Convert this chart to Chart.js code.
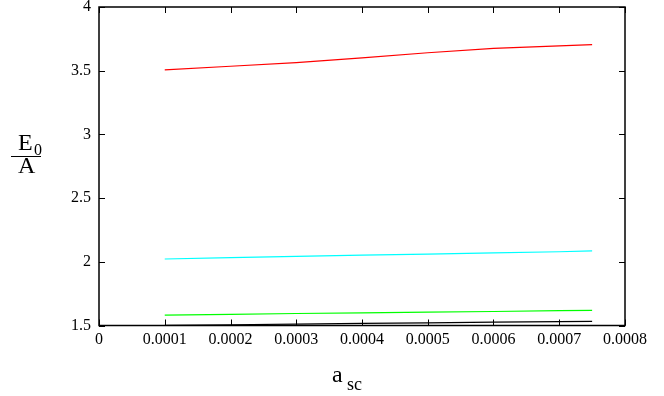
<!DOCTYPE html>
<html>
<head>
<meta charset="utf-8">
<script src="https://cdn.jsdelivr.net/npm/chart.js@4.4.1/dist/chart.umd.min.js"></script>
<style>
html,body{margin:0;padding:0;background:#fff;}
#wrap{width:664px;height:396px;}
</style>
</head>
<body>
<div id="wrap"><canvas id="c" width="664" height="396"></canvas></div>
<script>
const xValues = [0.0001, 0.0002, 0.0003, 0.0004, 0.0005, 0.0006, 0.0007, 0.00075];
const redSeries = [3.506, 3.535, 3.564, 3.601, 3.641, 3.676, 3.695, 3.704];
const cyanSeries = [2.022, 2.032, 2.042, 2.052, 2.061, 2.070, 2.079, 2.085];
const greenSeries = [1.582, 1.588, 1.594, 1.599, 1.605, 1.610, 1.616, 1.619];
const blackSeries = [1.501, 1.506, 1.511, 1.516, 1.521, 1.526, 1.531, 1.533];
const xTicks = [0, 0.0001, 0.0002, 0.0003, 0.0004, 0.0005, 0.0006, 0.0007, 0.0008];
const yTicks = [1.5, 2, 2.5, 3, 3.5, 4];

const pts = s => xValues.map((x, i) => ({x: x, y: s[i]}));
const FONT = '"Liberation Serif", "DejaVu Serif", serif';

const framePlugin = {
  id: 'frame',
  afterDraw(chart) {
    const ctx = chart.ctx, a = chart.chartArea;
    const xs = chart.scales.x, ys = chart.scales.y;
    ctx.save();
    ctx.strokeStyle = '#000';
    ctx.lineWidth = 1.5;
    ctx.strokeRect(a.left, a.top, a.right - a.left, a.bottom - a.top);
    ctx.lineWidth = 1;
    const L = 6;
    ctx.beginPath();
    xTicks.forEach(v => {
      const px = Math.round(xs.getPixelForValue(v)) + 0.5;
      ctx.moveTo(px, a.bottom); ctx.lineTo(px, a.bottom - L);
      ctx.moveTo(px, a.top); ctx.lineTo(px, a.top + L);
    });
    yTicks.forEach(v => {
      const py = Math.round(ys.getPixelForValue(v)) + 0.5;
      ctx.moveTo(a.left, py); ctx.lineTo(a.left + L, py);
      ctx.moveTo(a.right, py); ctx.lineTo(a.right - L, py);
    });
    ctx.stroke();
    // axis titles
    ctx.fillStyle = '#000';
    ctx.textBaseline = 'alphabetic';
    ctx.textAlign = 'left';
    ctx.font = '24px ' + FONT;
    ctx.fillText('a', 332, 382);
    ctx.font = '18px ' + FONT;
    ctx.fillText('sc', 347, 390);
    ctx.font = '24px ' + FONT;
    ctx.fillText('E', 18, 150);
    ctx.font = '16px ' + FONT;
    ctx.fillText('0', 34, 155);
    ctx.font = '24px ' + FONT;
    ctx.fillText('A', 18, 173);
    ctx.beginPath();
    ctx.moveTo(11, 156.5); ctx.lineTo(41, 156.5);
    ctx.stroke();
    ctx.restore();
  }
};

const ds = (data, color) => ({
  data: pts(data), borderColor: color, borderWidth: 1.2,
  pointRadius: 0, fill: false, tension: 0
});

new Chart(document.getElementById('c'), {
  type: 'line',
  data: {
    datasets: [
      ds(redSeries, '#ff0000'),
      ds(cyanSeries, '#00ffff'),
      ds(greenSeries, '#00ff00'),
      ds(blackSeries, '#000000')
    ]
  },
  options: {
    responsive: false,
    animation: false,
    devicePixelRatio: 1,
    layout: {padding: {left: 0, right: 39, top: 7, bottom: 0}},
    plugins: {legend: {display: false}, tooltip: {enabled: false}},
    scales: {
      x: {
        type: 'linear', min: 0, max: 0.0008,
        afterBuildTicks: s => { s.ticks = xTicks.map(v => ({value: v})); },
        afterFit: s => { s.height = 70.5; s.paddingLeft = 0; s.paddingRight = 0; },
        grid: {display: false, drawTicks: false},
        border: {display: false},
        ticks: {
          color: '#000', padding: 5, maxRotation: 0, autoSkip: false,
          font: {family: FONT, size: 16},
          callback: v => v === 0 ? '0' : v.toFixed(4)
        }
      },
      y: {
        type: 'linear', min: 1.5, max: 4,
        afterBuildTicks: s => { s.ticks = yTicks.map(v => ({value: v})); },
        afterFit: s => { s.width = 99; s.paddingTop = 0; s.paddingBottom = 0; },
        grid: {display: false, drawTicks: false},
        border: {display: false},
        ticks: {
          color: '#000', padding: 8,
          font: {family: FONT, size: 16},
          callback: v => String(v)
        }
      }
    }
  },
  plugins: [framePlugin]
});
</script>
</body>
</html>
